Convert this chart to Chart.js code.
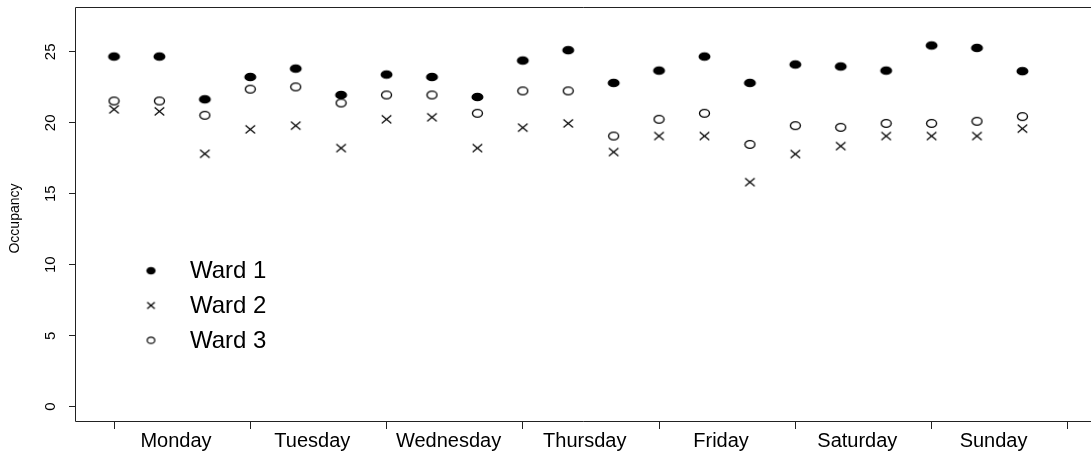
<!DOCTYPE html>
<html>
<head>
<meta charset="utf-8">
<script src="https://cdn.jsdelivr.net/npm/chart.js@4"></script>
<style>
  body { margin: 0; background: #fff; }
  #wrap { width: 1091px; height: 451px; position: relative; }
</style>
</head>
<body>
<div id="wrap"><canvas id="occupancyChart"></canvas></div>
<script>
const days = ['Monday', 'Tuesday', 'Wednesday', 'Thursday', 'Friday', 'Saturday', 'Sunday'];
const slots = [1, 2, 3, 4, 5, 6, 7, 8, 9, 10, 11, 12, 13, 14, 15, 16, 17, 18, 19, 20, 21];
const dayTicks = [1, 4, 7, 10, 13, 16, 19, 22];
const yTicks = [0, 5, 10, 15, 20, 25];
const ward1 = [24.67, 24.67, 21.66, 23.23, 23.82, 21.96, 23.40, 23.23, 21.82, 24.39, 25.12,
               22.81, 23.68, 24.67, 22.81, 24.11, 23.97, 23.68, 25.45, 25.28, 23.64];
const ward2 = [20.95, 20.81, 17.82, 19.54, 19.80, 18.22, 20.25, 20.39, 18.22, 19.66, 19.96,
               17.94, 19.07, 19.07, 15.82, 17.80, 18.36, 19.07, 19.07, 19.07, 19.59];
const ward3 = [21.54, 21.54, 20.53, 22.37, 22.53, 21.40, 21.96, 21.96, 20.67, 22.25, 22.25,
               19.07, 20.25, 20.67, 18.48, 19.80, 19.68, 19.96, 19.96, 20.11, 20.44];
const wardNames = ['Ward 1', 'Ward 2', 'Ward 3'];

const FONT = '"Liberation Sans", Arial, sans-serif';

// small canvases used as point styles (markers are a bit wider than tall)
function makeMarker(kind, rx, ry, lw) {
    const c = document.createElement('canvas');
    c.width = Math.ceil(rx * 2 + 3);
    c.height = Math.ceil(ry * 2 + 3);
    const g = c.getContext('2d');
    const cx = c.width / 2, cy = c.height / 2;
    g.strokeStyle = '#000';
    g.fillStyle = '#000';
    g.lineWidth = lw || 1.1;
    g.beginPath();
    if (kind === 'dot') {
        g.ellipse(cx, cy, rx, ry, 0, 0, Math.PI * 2);
        g.fill();
    } else if (kind === 'ring') {
        g.ellipse(cx, cy, rx, ry, 0, 0, Math.PI * 2);
        g.stroke();
    } else {
        g.moveTo(cx - rx, cy - ry); g.lineTo(cx + rx, cy + ry);
        g.moveTo(cx - rx, cy + ry); g.lineTo(cx + rx, cy - ry);
        g.stroke();
    }
    return c;
}

const plotMarkers = [makeMarker('dot', 6, 4.3), makeMarker('cross', 4.8, 4, 1.2), makeMarker('ring', 5, 3.8, 1.35)];
const legendMarkers = [makeMarker('dot', 4.6, 3.8), makeMarker('cross', 3.8, 3.3, 1.2), makeMarker('ring', 3.8, 3.2, 1.25)];

const toPoints = vals => slots.map((s, i) => ({ x: s, y: vals[i] }));

const framePlugin = {
    id: 'frame',
    afterDraw(chart) {
        const { ctx, chartArea: a, scales: { y } } = chart;
        ctx.save();
        ctx.strokeStyle = '#222';
        ctx.lineWidth = 1;
        ctx.beginPath();
        ctx.moveTo(chart.width, a.top + 0.5);
        ctx.lineTo(a.left - 0.5, a.top + 0.5);
        ctx.lineTo(a.left - 0.5, a.bottom - 0.5);
        ctx.lineTo(chart.width, a.bottom - 0.5);
        ctx.stroke();

        // rotated y tick labels
        ctx.fillStyle = '#000';
        ctx.textAlign = 'center';
        ctx.textBaseline = 'middle';
        ctx.font = '15px ' + FONT;
        yTicks.forEach(v => {
            ctx.save();
            ctx.translate(51, y.getPixelForValue(v));
            ctx.rotate(-Math.PI / 2);
            ctx.fillText(String(v), 0, 0);
            ctx.restore();
        });

        // axis title
        ctx.font = '14px ' + FONT;
        ctx.save();
        ctx.translate(15, (a.top + a.bottom) / 2 + 4);
        ctx.rotate(-Math.PI / 2);
        ctx.fillText('Occupancy', 0, 0);
        ctx.restore();

        // legend
        ctx.font = '24px ' + FONT;
        ctx.textAlign = 'left';
        const rows = [270.7, 305.5, 340.3];
        wardNames.forEach((name, i) => {
            const m = legendMarkers[i];
            ctx.drawImage(m, 151 - m.width / 2, rows[i] - m.height / 2);
            ctx.fillText(name, 190, rows[i] + 1);
        });
        ctx.restore();
    }
};

document.addEventListener('DOMContentLoaded', function () {
    const ctx = document.getElementById('occupancyChart').getContext('2d');
    new Chart(ctx, {
        type: 'scatter',
        data: {
            datasets: [ward1, ward2, ward3].map((vals, i) => ({
                label: wardNames[i],
                data: toPoints(vals),
                pointStyle: plotMarkers[i],
                pointRadius: 5,
                showLine: false
            }))
        },
        options: {
            responsive: true,
            maintainAspectRatio: false,
            animation: false,
            layout: { autoPadding: false, padding: { top: 7, left: 0, right: 0, bottom: 0 } },
            plugins: {
                legend: { display: false },
                tooltip: { enabled: false }
            },
            scales: {
                x: {
                    type: 'linear',
                    min: 0.163,
                    max: 22.51,
                    afterFit: s => { s.height = 29; },
                    afterBuildTicks: s => { s.ticks = dayTicks.map(v => ({ value: v })); },
                    border: { display: false },
                    grid: {
                        drawOnChartArea: false,
                        tickLength: 7,
                        color: '#222',
                        tickColor: '#222'
                    },
                    ticks: {
                        autoSkip: false,
                        maxRotation: 0,
                        minRotation: 0,
                        padding: 0,
                        labelOffset: 62,
                        color: '#000',
                        font: { family: FONT, size: 20 },
                        callback: v => days[(v - 1) / 3] || ''
                    }
                },
                y: {
                    type: 'linear',
                    min: -1.08,
                    max: 28.16,
                    afterFit: s => { s.width = 76; },
                    afterBuildTicks: s => { s.ticks = yTicks.map(v => ({ value: v })); },
                    border: { display: false },
                    grid: {
                        drawOnChartArea: false,
                        tickLength: 7,
                        color: '#222',
                        tickColor: '#222'
                    },
                    ticks: { display: false }
                }
            }
        },
        plugins: [framePlugin]
    });
});
</script>
</body>
</html>
